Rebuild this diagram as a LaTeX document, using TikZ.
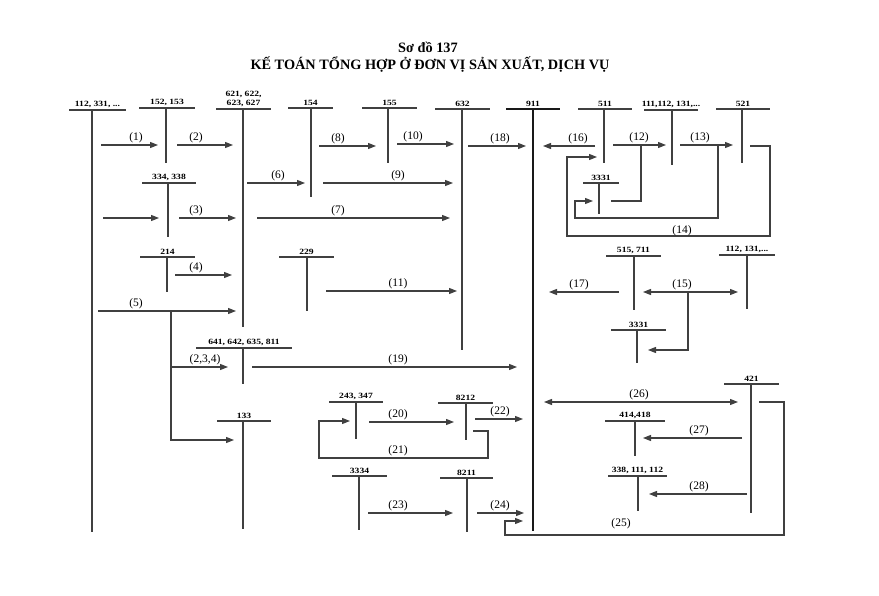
\documentclass[tikz,border=0pt]{standalone}
\usepackage{fontspec}
\setmainfont{Liberation Serif}
\newfontfamily\acctfont[FakeStretch=1.2]{Liberation Serif}
\usetikzlibrary{arrows.meta}
\newcommand\tacct[7]{%
  \node[acct] (#1) at ({(#3+#4)/2},#5-1) {#2};
  \draw[ln] (#3,#5) -- (#4,#5);
  \draw[ln] (#6,#5) -- (#6,#7);
}
\begin{document}
\begin{tikzpicture}[x=1pt,y=-1pt,
  ln/.style={line width=1.2pt, draw=black!75},
  tk/.style={line width=2.8pt, draw=black!90},
  arr/.style={ln,-{Triangle[length=8pt,width=6pt]}},
  darr/.style={ln,{Triangle[length=8pt,width=6pt]}-{Triangle[length=8pt,width=6pt]}},
  acct/.style={font=\acctfont\bfseries\fontsize{8}{9}\selectfont, inner sep=1pt, anchor=south, align=center},
  lbl/.style={font=\fontsize{11.5}{12}\selectfont, inner sep=1pt, anchor=south},
  ttl/.style={font=\bfseries\fontsize{14.3}{15}\selectfont, inner sep=0pt}
]
\useasboundingbox (0,0) rectangle (879,595);
% title
\node[ttl] (t1) at (428,47) {Sơ đồ 137};
\node[ttl] (t2) at (430,65) {KẾ TOÁN TỔNG HỢP Ở ĐƠN VỊ SẢN XUẤT, DỊCH VỤ};
% T accounts
\tacct{a112}{112, 331, ...}{69}{126}{110}{92}{532}
\tacct{a152}{152, 153}{139}{195}{108}{166}{163}
\tacct{a621}{621, 622,\\623, 627}{216}{271}{109}{243}{327}
\tacct{a154}{154}{288}{333}{108}{311}{197}
\tacct{a155}{155}{362}{417}{108}{388}{163}
\tacct{a632}{632}{435}{490}{109}{462}{350}
\node[acct] (a911) at (533,108) {911};
\draw[tk] (506,109) -- (560,109);
\draw[tk] (533,109) -- (533,531);
\tacct{a511}{511}{578}{632}{109}{604}{163}
\tacct{a111}{111,112, 131,...}{644}{698}{110}{672}{165}
\tacct{a521}{521}{716}{770}{109}{742}{163}
\tacct{a3331a}{3331}{583}{619}{183}{599}{214}
\tacct{a334}{334, 338}{142}{196}{183}{168}{237}
\tacct{a214}{214}{140}{195}{257}{167}{292}
\tacct{a229}{229}{279}{334}{257}{307}{311}
\tacct{a515}{515, 711}{606}{661}{256}{634}{310}
\tacct{a112b}{112, 131,...}{719}{775}{255}{747}{309}
\tacct{a3331b}{3331}{611}{666}{330}{637}{363}
\tacct{a641}{641, 642, 635, 811}{196}{292}{348}{243}{384}
\tacct{a133}{133}{217}{271}{421}{243}{529}
\tacct{a243}{243, 347}{329}{383}{402}{356}{439}
\tacct{a8212}{8212}{438}{493}{403}{466}{440}
\tacct{a3334}{3334}{332}{387}{476}{359}{530}
\tacct{a8211}{8211}{440}{493}{478}{467}{532}
\tacct{a421}{421}{724}{779}{384}{751}{513}
\tacct{a414}{414,418}{605}{665}{421}{635}{456}
\tacct{a338}{338, 111, 112}{608}{667}{476}{638}{511}
% arrows, row 1
\draw[arr] (101,145) -- (158,145); \node[lbl] (l1) at (136,144) {(1)};
\draw[arr] (177,145) -- (233,145); \node[lbl] (l2) at (196,144) {(2)};
\draw[arr] (319,146) -- (376,146); \node[lbl] (l8) at (338,145) {(8)};
\draw[arr] (397,144) -- (454,144); \node[lbl] (l10) at (413,143) {(10)};
\draw[arr] (468,146) -- (526,146); \node[lbl] (l18) at (500,145) {(18)};
\draw[arr] (595,146) -- (543,146); \node[lbl] (l16) at (578,145) {(16)};
\draw[arr] (613,145) -- (666,145); \node[lbl] (l12) at (639,144) {(12)};
\draw[arr] (680,145) -- (733,145); \node[lbl] (l13) at (700,144) {(13)};
% row 2
\draw[arr] (247,183) -- (305,183); \node[lbl] (l6) at (278,182) {(6)};
\draw[arr] (323,183) -- (453,183); \node[lbl] (l9) at (398,182) {(9)};
% row 3
\draw[arr] (103,218) -- (159,218);
\draw[arr] (179,218) -- (236,218); \node[lbl] (l3) at (196,217) {(3)};
\draw[arr] (257,218) -- (450,218); \node[lbl] (l7) at (338,217) {(7)};
% loops around 511 / 3331 / 521
\draw[arr] (750,146) -- (770,146) -- (770,236) -- (567,236) -- (567,157) -- (597,157);
\node[lbl] (l14) at (682,237) {(14)};
\draw[arr] (718,145) -- (718,218) -- (575,218) -- (575,201) -- (593,201);
\draw[ln] (611,201) -- (641,201) -- (641,145);
% row 4
\draw[arr] (175,275) -- (232,275); \node[lbl] (l4) at (196,274) {(4)};
\draw[arr] (326,291) -- (457,291); \node[lbl] (l11) at (398,290) {(11)};
\draw[arr] (619,292) -- (549,292); \node[lbl] (l17) at (579,291) {(17)};
\draw[darr] (643,292) -- (738,292); \node[lbl] (l15) at (682,291) {(15)};
\draw[arr] (688,292) -- (688,350) -- (648,350);
% (5)
\draw[arr] (98,311) -- (236,311); \node[lbl] (l5) at (136,310) {(5)};
\draw[arr] (171,311) -- (171,440) -- (234,440);
\draw[arr] (171,367) -- (228,367); \node[lbl] (l234) at (205,366) {(2,3,4)};
\draw[arr] (252,367) -- (517,367); \node[lbl] (l19) at (398,366) {(19)};
% lower middle
\draw[arr] (369,422) -- (454,422); \node[lbl] (l20) at (398,421) {(20)};
\draw[arr] (473,431) -- (488,431) -- (488,458) -- (319,458) -- (319,421) -- (350,421);
\node[lbl] (l21) at (398,457) {(21)};
\draw[arr] (475,419) -- (523,419); \node[lbl] (l22) at (500,418) {(22)};
\draw[arr] (368,513) -- (453,513); \node[lbl] (l23) at (398,512) {(23)};
\draw[arr] (477,513) -- (524,513); \node[lbl] (l24) at (500,512) {(24)};
% right lower
\draw[darr] (544,402) -- (738,402); \node[lbl] (l26) at (639,401) {(26)};
\draw[arr] (742,438) -- (643,438); \node[lbl] (l27) at (699,437) {(27)};
\draw[arr] (747,494) -- (649,494); \node[lbl] (l28) at (699,493) {(28)};
\draw[arr] (759,402) -- (784,402) -- (784,535) -- (505,535) -- (505,521) -- (523,521);
\node[lbl, anchor=center] (l25) at (621,524) {(25)};
\end{tikzpicture}
\end{document}
